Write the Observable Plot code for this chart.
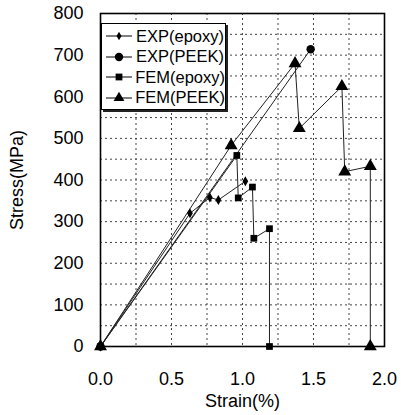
<!DOCTYPE html>
<html>
<head>
<meta charset="utf-8">
<script src="https://cdn.jsdelivr.net/npm/d3@7"></script>
<script src="https://cdn.jsdelivr.net/npm/@observablehq/plot@0.6"></script>
<style>
  html, body { margin: 0; padding: 0; background: #fff; }
  #wrap { position: relative; width: 401px; height: 415px; font-family: Arial, "Liberation Sans", sans-serif; }
  #legend { position: absolute; left: 101px; top: 23px; width: 125px; height: 87px; border: 1px solid #000;
            box-shadow: 2px 2px 0 #222; background: #fff; box-sizing: border-box; padding-top: 2px; }
  .row { display: flex; align-items: center; height: 20.5px; font-size: 16.5px; color: #000; }
  .row svg { margin-left: 3px; margin-right: 3px; }
</style>
</head>
<body>
<div id="wrap"><div id="chart"></div><div id="legend"></div></div>
<script>
// ---- data ----
const seriesNames = ["EXP(epoxy)", "EXP(PEEK)", "FEM(epoxy)", "FEM(PEEK)"];
const expEpoxyStrain = [0, 0.63, 0.77, 0.83, 1.02];
const expEpoxyStress = [0, 320, 358, 352, 397];
const expPeekStrain = [0, 1.48];
const expPeekStress = [0, 714];
const femEpoxyStrain = [0, 0.96, 0.97, 1.07, 1.08, 1.19, 1.19];
const femEpoxyStress = [0, 459, 357, 383, 260, 283, 0];
const femPeekStrain = [0, 0.92, 1.37, 1.40, 1.70, 1.72, 1.90, 1.90];
const femPeekStress = [0, 483, 680, 524, 625, 420, 433, 0];
const xTicks = [0, 0.5, 1.0, 1.5, 2.0];
const yTicks = [0, 100, 200, 300, 400, 500, 600, 700, 800];
const xGrid = [0.25, 0.5, 0.75, 1.0, 1.25, 1.5, 1.75];
const yGrid = [50, 100, 150, 200, 250, 300, 350, 400, 450, 500, 550, 600, 650, 700, 750];

const symbols = { "EXP(epoxy)": "diamond", "EXP(PEEK)": "circle", "FEM(epoxy)": "square", "FEM(PEEK)": "triangle" };
const sizes = { "EXP(epoxy)": 3, "EXP(PEEK)": 4.2, "FEM(epoxy)": 3.8, "FEM(PEEK)": 4.8 };

function build(name, xs, ys) { return xs.map((x, i) => ({ series: name, strain: x, stress: ys[i] })); }
const series = [
  build(seriesNames[0], expEpoxyStrain, expEpoxyStress),
  build(seriesNames[1], expPeekStrain, expPeekStress),
  build(seriesNames[2], femEpoxyStrain, femEpoxyStress),
  build(seriesNames[3], femPeekStrain, femPeekStress)
];

const marks = [
  Plot.ruleX(xGrid, { x: d => d, stroke: "#444", strokeWidth: 1, strokeDasharray: "2 3" }),
  Plot.ruleY(yGrid, { y: d => d, stroke: "#444", strokeWidth: 1, strokeDasharray: "2 3" }),
];
series.forEach((d) => {
  marks.push(Plot.line(d, { x: "strain", y: "stress", stroke: "#222", strokeWidth: 1 }));
});
series.forEach((d) => {
  const n = d[0].series;
  marks.push(Plot.dot(d, { x: "strain", y: "stress", symbol: () => symbols[n], r: sizes[n], fill: "#000", stroke: "none" }));
});
marks.push(Plot.frame({ stroke: "#000", strokeWidth: 1.6 }));
marks.push(Plot.axisX({ ticks: xTicks, tickFormat: d3.format(".1f"), tickSize: 0, tickPadding: 26, fontSize: 18, label: "Strain(%)", labelAnchor: "center", labelOffset: 60, labelArrow: "none" }));
marks.push(Plot.axisY({ ticks: yTicks, tickSize: 0, tickPadding: 17, fontSize: 18, label: "Stress(MPa)", labelAnchor: "center", labelOffset: 90, labelArrow: "none" }));

const chart = Plot.plot({
  width: 401, height: 415,
  marginLeft: 100, marginRight: 17, marginTop: 13, marginBottom: 69,
  x: { domain: [0, 2.0] },
  y: { domain: [0, 800] },
  symbol: { type: "identity" },
  style: { fontFamily: "Arial, 'Liberation Sans', sans-serif", color: "#000", background: "#fff" },
  marks
});
chart.querySelectorAll("g[aria-label='x-axis label'] text, g[aria-label='y-axis label'] text").forEach(t => t.setAttribute("font-size", "18"));
document.getElementById("chart").appendChild(chart);

// legend
const legend = document.getElementById("legend");
seriesNames.forEach(n => {
  const row = document.createElement("div");
  row.className = "row";
  const s = d3.create("svg").attr("width", 28).attr("height", 14);
  s.append("line").attr("x1", 1).attr("x2", 27).attr("y1", 7).attr("y2", 7).attr("stroke", "#000").attr("stroke-width", 1);
  const symMap = { circle: d3.symbolCircle, diamond: d3.symbolDiamond, square: d3.symbolSquare, triangle: d3.symbolTriangle };
  const r = sizes[n];
  const sym = symMap[symbols[n]];
  const area = symbols[n] === "circle" ? Math.PI * r * r : symbols[n] === "diamond" ? r * r * 2.4 : symbols[n] === "square" ? r * r * 3.2 : r * r * 2.2;
  s.append("path").attr("d", d3.symbol(sym, area)()).attr("transform", "translate(14,7)").attr("fill", "#000");
  row.appendChild(s.node());
  const t = document.createElement("span");
  t.textContent = n;
  row.appendChild(t);
  legend.appendChild(row);
});
</script>
</body>
</html>
